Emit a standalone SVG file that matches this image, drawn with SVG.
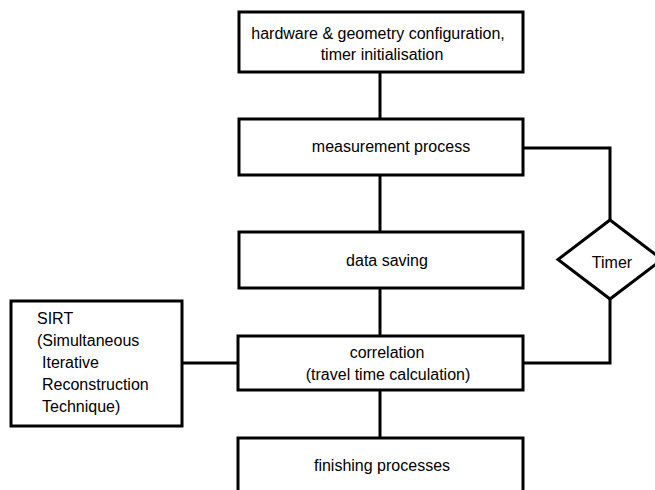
<svg xmlns="http://www.w3.org/2000/svg" width="655" height="490" viewBox="0 0 655 490">
<style>
.b{fill:#fff;stroke:#000;stroke-width:3}
.c{fill:none;stroke:#000;stroke-width:3}
text{font-family:"Liberation Sans",Arial,sans-serif;font-size:16px;fill:#000}
.m{text-anchor:middle}
</style>
<rect width="655" height="490" fill="#fff"/>
<g id="connectors">
<path class="c" d="M380 72V119"/>
<path class="c" d="M380 175V232"/>
<path class="c" d="M380 288V336"/>
<path class="c" d="M380 390V438"/>
<path class="c" d="M523 148H610V220"/>
<path class="c" d="M610 299V363H523"/>
<path class="c" d="M182 363H238"/>
</g>
<g id="n1"><rect class="b" x="239" y="12" width="284" height="60"/>
<text class="m" x="378" y="39">hardware &amp; geometry configuration,</text>
<text class="m" x="382" y="60">timer initialisation</text></g>
<g id="n2"><rect class="b" x="239" y="119" width="284" height="56"/>
<text class="m" x="391" y="152">measurement process</text></g>
<g id="n3"><rect class="b" x="239" y="232" width="284" height="56"/>
<text class="m" x="387" y="266">data saving</text></g>
<g id="n4"><polygon class="b" points="610,220 662,259.5 610,299 558,259.5"/>
<text class="m" x="612" y="268">Timer</text></g>
<g id="n5"><rect class="b" x="238" y="336" width="285" height="54"/>
<text class="m" x="387" y="358">correlation</text>
<text class="m" x="388" y="380">(travel time calculation)</text></g>
<g id="n6"><rect class="b" x="11" y="301" width="171" height="125"/>
<text x="37" y="324">SIRT</text>
<text x="37" y="346">(Simultaneous</text>
<text x="42" y="368">Iterative</text>
<text x="42" y="390">Reconstruction</text>
<text x="42" y="412">Technique)</text></g>
<g id="n7"><rect class="b" x="238" y="438" width="285" height="70"/>
<text class="m" x="382" y="471">finishing processes</text></g>
</svg>
